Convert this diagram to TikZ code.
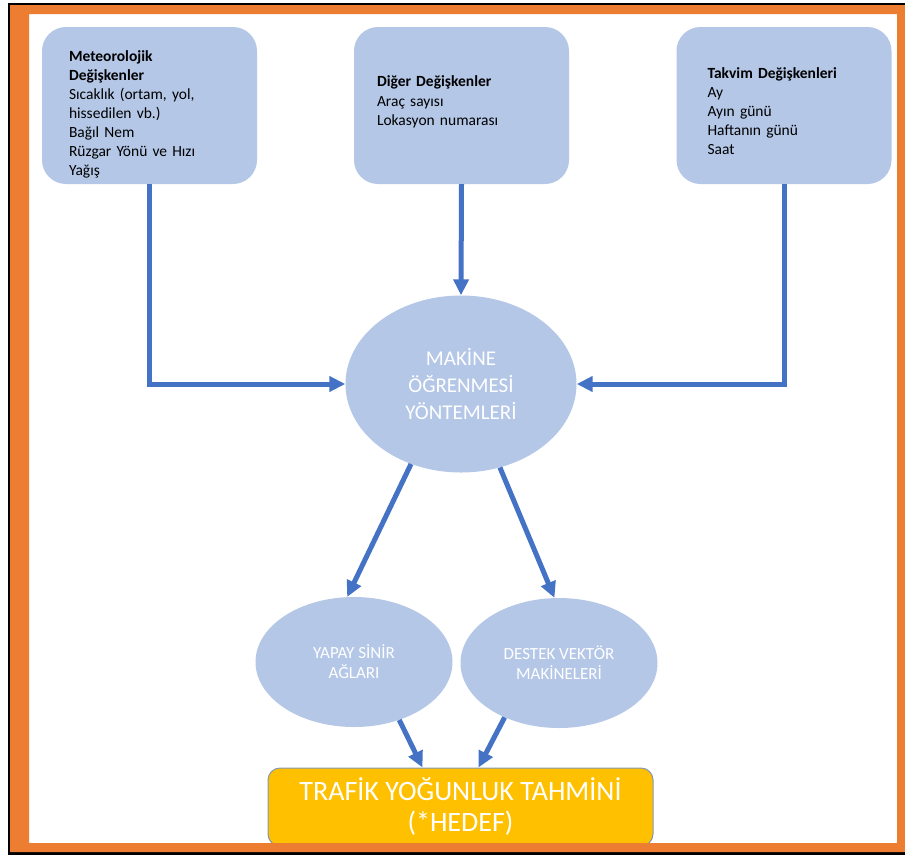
\documentclass[tikz,border=0pt]{standalone}
\usepackage{fontspec}
\setmainfont{Carlito}
\usetikzlibrary{shapes.geometric,arrows.meta}

\definecolor{boxblue}{HTML}{B4C7E7}
\definecolor{arrowblue}{HTML}{4472C4}
\definecolor{frameorange}{HTML}{ED7D31}
\definecolor{targetyellow}{HTML}{FFC000}
\definecolor{targetedge}{HTML}{8497B0}

\begin{document}
\begin{tikzpicture}[x=1pt,y=-1pt,
		varbox/.style={fill=boxblue,rounded corners=24pt,minimum height=157pt,align=left,font=\fontsize{15.5}{19}\selectfont},
		method/.style={ellipse,fill=boxblue,inner sep=0pt,text=white,align=center},
		flow/.style={arrowblue,line width=5pt,-{Triangle[length=16pt,width=15pt]}}]
			\useasboundingbox (0,0) rectangle (905,855);
			% Frame background
			\fill[white] (0,0) rectangle (905,855);
			\fill[black] (8,3) rectangle (905,855);
			\fill[white] (29,14) rectangle (897,843);

			% Input variables
			\node[varbox,inner xsep=27pt,text width=161pt] (met) at (149.5,105.5) {\rule{0pt}{28pt}\textbf{Meteorolojik}\\\textbf{Değişkenler}\\Sıcaklık (ortam, yol,\\hissedilen vb.)\\Bağıl Nem\\Rüzgar Yönü ve Hızı\\Yağış};
			\node[varbox,inner xsep=23pt,text width=169pt] (diger) at (461.5,105.5) {\textbf{Diğer Değişkenler}\\[1pt]Araç sayısı\\Lokasyon numarası\\[-9pt]\mbox{}};
			\node[varbox,inner xsep=31pt,text width=153pt] (takvim) at (784,105.5) {\rule{0pt}{22pt}\textbf{Takvim Değişkenleri}\\Ay\\Ayın günü\\Haftanın günü\\Saat};

			% Methods
			\node[method,minimum width=231pt,minimum height=177pt,font=\fontsize{21}{27}\selectfont] (mlm) at (461,384) {MAKİNE\\ÖĞRENMESİ\\YÖNTEMLERİ};
			\node[method,minimum width=197pt,minimum height=130pt,font=\fontsize{17}{20}\selectfont] (yapay) at (354,662) {YAPAY SİNİR\\AĞLARI};
			\node[method,minimum width=197pt,minimum height=130pt,font=\fontsize{17}{20}\selectfont] (destek) at (559,663) {DESTEK VEKTÖR\\MAKİNELERİ};

			% Target
			\node[draw=targetedge,line width=1pt,fill=targetyellow,rounded corners=12pt,minimum width=385pt,minimum height=78pt,text=white,align=center,font=\fontsize{28}{31}\selectfont] (hedef) at (460.5,807) {TRAFİK YOĞUNLUK TAHMİNİ\\(*HEDEF)};

			% Draw edges
			\draw[flow] (met.south) |- (mlm.west);
			\draw[flow] (diger.south) -- (mlm.north);
			\draw[flow] (takvim.south) |- (mlm.east);
			\draw[flow] (mlm.238) -- (yapay.96);
			\draw[flow] (mlm.295) -- (destek.94);
			\draw[flow] (yapay.308) -- ([xshift=-38pt]hedef.north);
			\draw[flow] (destek.225) -- ([xshift=18pt]hedef.north);

			% Orange frame
			\fill[frameorange,even odd rule] (10,5) rectangle (905,852) (29,14) rectangle (897,843);
		\end{tikzpicture}
\end{document}
